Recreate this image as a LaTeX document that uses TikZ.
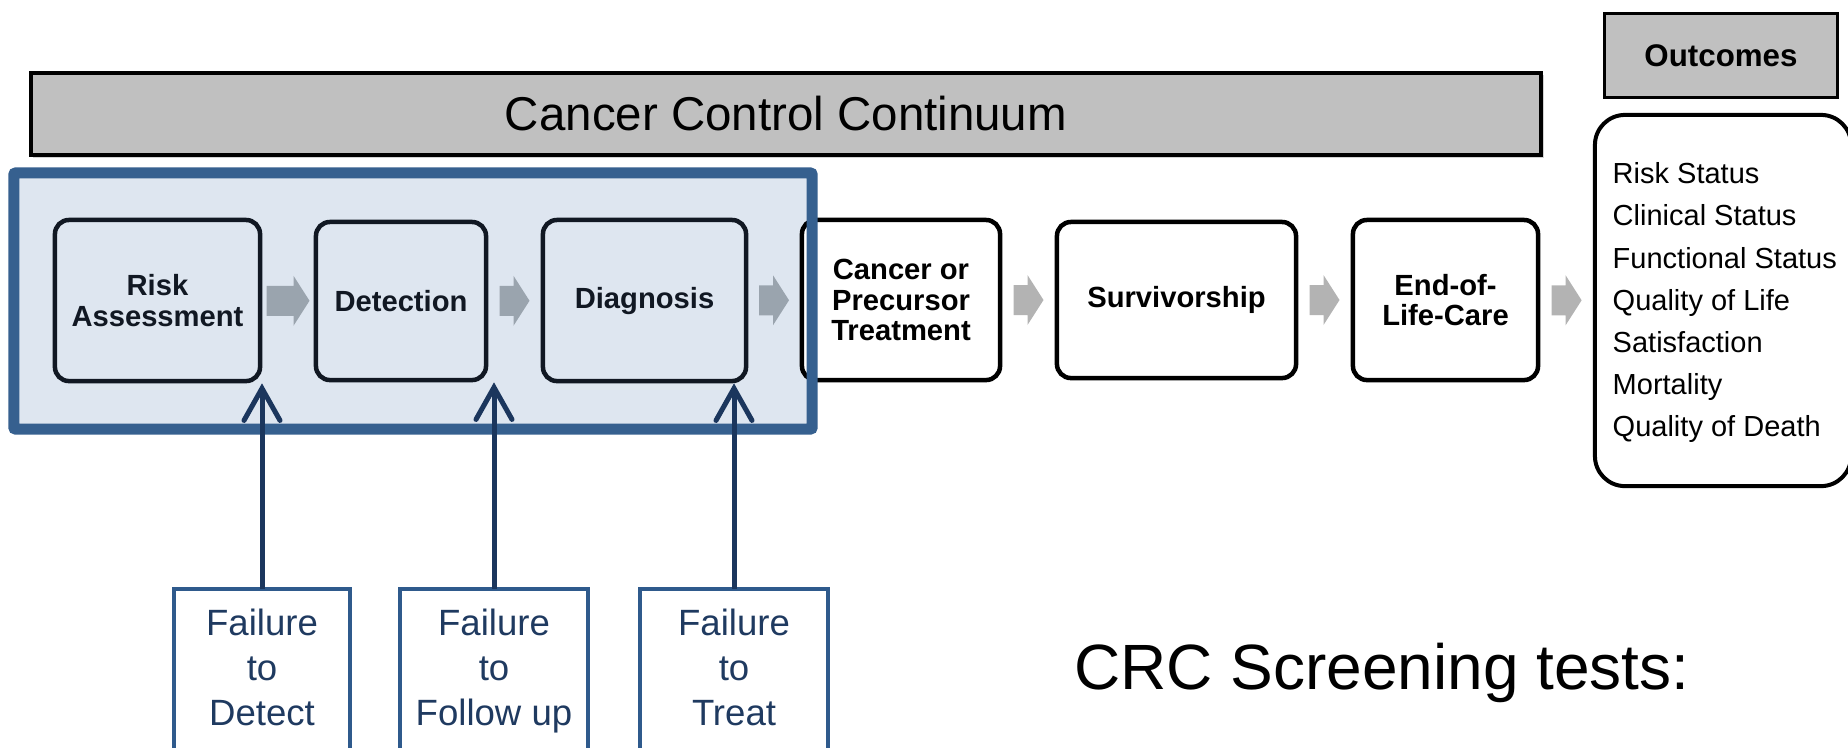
\documentclass[tikz,border=0pt]{standalone}
\usepackage{fontspec}
\setmainfont{Liberation Sans}
\usetikzlibrary{arrows.meta,calc}
\definecolor{bluebord}{HTML}{36608F}
\definecolor{bluefill}{HTML}{DEE6F0}
\definecolor{navy}{HTML}{1B365D}
\definecolor{failbord}{HTML}{2F5A8C}
\definecolor{failtext}{HTML}{1F3A60}
\definecolor{bannerfill}{HTML}{C0C0C0}
\definecolor{arrin}{HTML}{9AA4AE}
\definecolor{arrout}{HTML}{B3B3B3}
\definecolor{innerbord}{HTML}{111823}
\newcommand\blockarr[4]{%
  \coordinate (ba) at ($(#1.east)!0.5!(#2.west)$);
  \fill[#3] ($(ba)+(-#4,-15)$) -- ($(ba)+(#4-16,-15)$) -- ($(ba)+(#4-16,-25)$) -- ($(ba)+(#4,0)$)
     -- ($(ba)+(#4-16,25)$) -- ($(ba)+(#4-16,15)$) -- ($(ba)+(-#4,15)$) -- cycle;}
\begin{document}
\begin{tikzpicture}[x=0.01cm,y=-0.01cm,
  stage/.style={draw=innerbord, line width=0.045cm, rounded corners=0.14cm, align=center,
    font=\fontsize{8.3}{8.7}\selectfont\bfseries, inner sep=0pt, text=innerbord},
  stagew/.style={stage, draw=black, fill=white, text=black},
  graybox/.style={draw=black, fill=bannerfill, inner sep=0pt},
  failbox/.style={draw=none, inner sep=0pt, outer sep=0pt, align=center, text=failtext,
    font=\fontsize{10.4}{12.7}\selectfont, minimum width=1.88cm, minimum height=1.64cm},
  failline/.style={draw=failbord, line width=0.04cm},
  navyarrow/.style={draw=navy, line width=0.05cm, -{Straight Barb[length=0.32cm, width=0.36cm, line cap=round]}}
]
\useasboundingbox (0,0) rectangle (1848,747);

% banner (with faint shadow)
\fill[gray!35] (33,75) rectangle (1544,158);
\node[graybox, line width=0.04cm, minimum width=15.10cm, minimum height=0.82cm,
  font=\fontsize{13.5}{16}\selectfont] (banner) at (786,114) {Cancer Control Continuum};

% outcomes header
\node[graybox, line width=0.03cm, minimum width=2.33cm, minimum height=0.84cm,
  font=\fontsize{8.9}{10}\selectfont\bfseries] (outhead) at (1721,55.5) {Outcomes};

% screening box fill
\node[fill=bluefill, draw=none, inner sep=0pt, outer sep=0pt, minimum width=7.98cm, minimum height=2.56cm] (scr) at (413,301) {};

% stages
\node[stage, minimum width=2.05cm, minimum height=1.61cm] (risk) at (157.5,300.5) {Risk\\Assessment};
\node[stage, minimum width=1.70cm, minimum height=1.58cm] (det) at (401,301) {Detection};
\node[stage, minimum width=2.03cm, minimum height=1.61cm] (diag) at (644.5,300.5) {Diagnosis};
\node[stagew, minimum width=1.98cm, minimum height=1.60cm] (treat) at (901,300) {Cancer or\\Precursor\\Treatment};
\node[stagew, minimum width=2.39cm, minimum height=1.56cm] (surv) at (1176.5,300) {Survivorship};
\node[stagew, minimum width=1.85cm, minimum height=1.60cm] (eol) at (1445.5,300) {End-of-\\Life-Care};

% screening box border
\draw[bluebord, line width=0.11cm, rounded corners=0.02cm] (scr.south west) rectangle (scr.north east);

% outcomes box
\node[draw=black, line width=0.04cm, rounded corners=0.3cm, minimum width=2.56cm, minimum height=3.71cm, inner sep=0pt] (outbox) at (1723,300.5) {};
\node[anchor=west, align=left, inner sep=0pt, font=\fontsize{8.25}{11.95}\selectfont] (outlist) at (1612,302.5)
  {Risk Status\\Clinical Status\\Functional Status\\Quality of Life\\Satisfaction\\Mortality\\Quality of Death};

% block arrows
\blockarr{risk}{det}{arrin}{21.5}
\blockarr{det}{diag}{arrin}{15}
\blockarr{diag}{treat}{arrin}{15}
\blockarr{treat}{surv}{arrout}{15}
\blockarr{surv}{eol}{arrout}{15}
\blockarr{eol}{outbox}{arrout}{15}

% failure boxes
\node[failbox, minimum width=1.75cm] (f1) at (262,671) {Failure\\to\\Detect\vphantom{p}};
\node[failbox] (f2) at (494,671) {Failure\\to\\Follow up};
\node[failbox] (f3) at (734,671) {Failure\\to\\Treat\vphantom{p}};
\foreach \f in {f1,f2,f3}{
  \draw[failline] ([yshift=-20pt]\f.south west) -- (\f.north west) -- (\f.north east) -- ([yshift=-20pt]\f.south east);
}

% failure arrows
\draw[navyarrow] (f1.north) -- (f1.north |- risk.south);
\draw[navyarrow] (f2.north) -- (f2.north |- det.south);
\draw[navyarrow] (f3.north) -- (f3.north |- diag.south);

% CRC text
\node[anchor=base, inner sep=0pt, font=\fontsize{18.2}{22}\selectfont] (crc) at (1382,689) {CRC Screening tests:};
\end{tikzpicture}
\end{document}
